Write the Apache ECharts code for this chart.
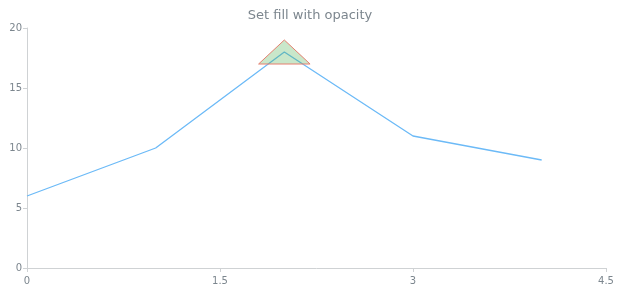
<!DOCTYPE html>
<html><head><meta charset="utf-8">
<script src="https://cdn.jsdelivr.net/npm/echarts@6/dist/echarts.min.js"></script>
<style>html,body{margin:0;padding:0;background:#fff}#c{width:620px;height:300px}</style>
</head><body><div id="c"></div>
<script>
const xValues = [0, 1, 2, 3, 4];
const yValues = [6, 10, 18, 11, 9];
const triangleX = [1.8, 2, 2.2];
const triangleY = [17, 19, 17];
const xTicks = [0, 1.5, 3, 4.5];
const yTicks = [0, 5, 10, 15, 20];

const chart = echarts.init(document.getElementById('c'), null, {renderer: 'canvas'});
const axisCol = '#cfd2d4';
const labCol = '#7c868e';
chart.setOption({
  animation: false,
  title: {text: 'Set fill with opacity', left: 'center', top: 4,
    textStyle: {color: labCol, fontSize: 13, fontWeight: 'normal', fontFamily: 'DejaVu Sans'}},
  grid: {left: 27, right: 14, top: 28, bottom: 32},
  xAxis: {type: 'value', min: xTicks[0], max: xTicks[xTicks.length-1], interval: 1.5,
    axisLine: {lineStyle: {color: axisCol}}, axisTick: {show: true, length: 4, lineStyle: {color: axisCol}},
    splitLine: {show: false},
    axisLabel: {color: labCol, fontSize: 10, fontFamily: 'DejaVu Sans', margin: 8}},
  yAxis: {type: 'value', min: yTicks[0], max: yTicks[yTicks.length-1], interval: 5,
    axisLine: {show: true, lineStyle: {color: axisCol}}, axisTick: {show: true, length: 4, lineStyle: {color: axisCol}},
    splitLine: {show: false},
    axisLabel: {color: labCol, fontSize: 10, fontFamily: 'DejaVu Sans', margin: 5}},
  series: [
    {type: 'line', data: xValues.map((x, i) => [x, yValues[i]]), showSymbol: false,
     lineStyle: {color: '#6cbaf7', width: 1.3}, z: 2},
    {type: 'custom', z: 3,
     data: [[triangleX[0], triangleY[0], triangleX[1], triangleY[1], triangleX[2], triangleY[2]]],
     renderItem: function (params, api) {
       const pts = [0, 1, 2].map(k => api.coord([api.value(2*k), api.value(2*k+1)]));
       return {type: 'polygon', shape: {points: pts},
         style: {fill: 'rgba(76,175,80,0.3)', stroke: '#e57f6f', lineWidth: 1}};
     }}
  ]
});
</script></body></html>
